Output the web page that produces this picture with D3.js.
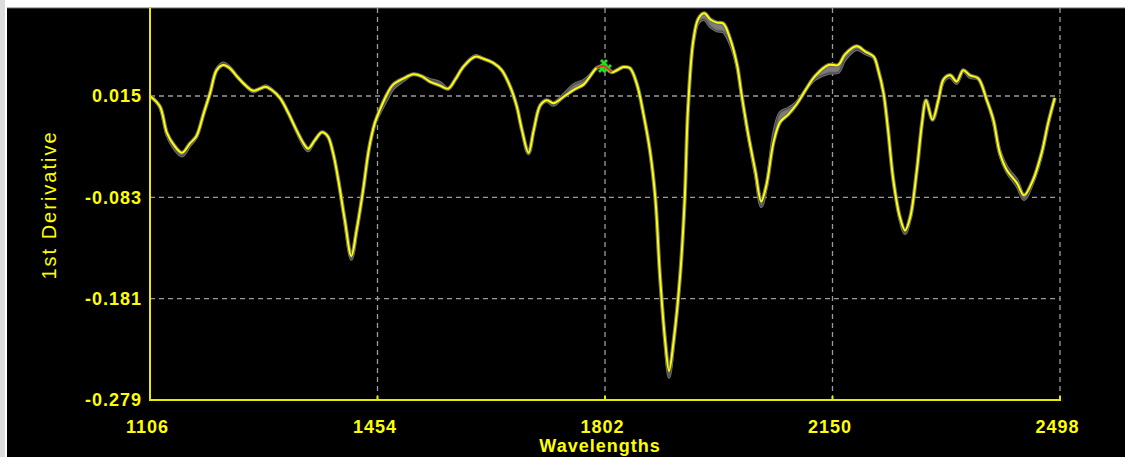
<!DOCTYPE html>
<html>
<head>
<meta charset="utf-8">
<script src="https://cdn.jsdelivr.net/npm/d3@7"></script>
<style>
  html, body { margin: 0; padding: 0; background: #ffffff; }
  svg { display: block; }
</style>
</head>
<body>
<svg id="chart" width="1125" height="457"></svg>
<script>
// Spectrum (1st derivative) sampled along the wavelength axis
const wavelengths = [1106,1121,1132,1142,1155,1167,1177,1188,1198,1208,1218,1228,1239,1251,1264,1274,1283,1292,1305,1318,1330,1341,1348,1358,1369,1378,1386,1394,1404,1414,1422,1432,1441,1450,1458,1468,1478,1494,1509,1522,1534,1550,1562,1573,1585,1603,1616,1631,1644,1657,1667,1675,1685,1693,1703,1713,1723,1738,1754,1769,1779,1789,1800,1812,1830,1840,1851,1861,1871,1879,1886,1894,1900,1907,1917,1924,1929,1937,1945,1954,1963,1973,1983,1993,2004,2011,2021,2032,2041,2049,2060,2070,2082,2095,2111,2123,2144,2159,2169,2187,2200,2213,2220,2228,2235,2243,2253,2261,2269,2279,2287,2293,2303,2312,2320,2330,2340,2350,2360,2373,2386,2396,2406,2417,2432,2443,2457,2470,2480,2490];
const meanSpectrum = [0.015,0.005,-0.021,-0.032,-0.040,-0.031,-0.024,-0.002,0.018,0.040,0.045,0.042,0.034,0.026,0.020,0.022,0.024,0.021,0.013,-0.002,-0.018,-0.031,-0.036,-0.028,-0.020,-0.024,-0.040,-0.066,-0.105,-0.140,-0.115,-0.076,-0.036,-0.011,0.002,0.016,0.026,0.032,0.036,0.034,0.029,0.025,0.022,0.031,0.043,0.053,0.051,0.047,0.040,0.024,0.005,-0.018,-0.040,-0.018,0.006,0.011,0.008,0.014,0.021,0.026,0.034,0.042,0.044,0.038,0.043,0.042,0.026,-0.003,-0.039,-0.084,-0.158,-0.222,-0.251,-0.222,-0.158,-0.084,0.003,0.068,0.090,0.095,0.089,0.086,0.085,0.071,0.045,0.016,-0.022,-0.058,-0.087,-0.071,-0.029,-0.010,-0.003,0.007,0.023,0.034,0.045,0.045,0.055,0.063,0.058,0.053,0.040,0.018,-0.018,-0.066,-0.102,-0.115,-0.102,-0.057,-0.011,0.011,-0.008,0.011,0.031,0.035,0.029,0.040,0.035,0.032,0.011,-0.008,-0.040,-0.057,-0.069,-0.081,-0.066,-0.040,-0.011,0.013];
// How far the individual sample spectra reach above / below the mean spectrum
const spreadAbove = [0,0,0,0,0,0,0,0,0,0.001,0.002,0.001,0,0,0,0,0.001,0,0,0,0,0,0,0,0,0,0,0,0,0,0,0,0,0,0,0,0,0,0,0,0.002,0.003,0,0,0,0.001,0,0,0,0,0,0,0,0,0,0,0,0.002,0.005,0.004,0.001,0,0,0,0,0,0,0,0,0,0,0,0,0,0,0,0,0,0,0,0,0,0,0,0,0,0,0,0,0,0.008,0.009,0.006,0.002,0,0,0,0,0,0,0,0,0,0,0,0,0,0,0,0,0,0,0,0,0,0,0,0,0,0,0,0,0.002,0.003,0.003,0,0,0,0,0];
const spreadBelow = [0,0.001,0.002,0.003,0.003,0.002,0.001,0,0,0,0,0,0,0,0.001,0,0,0,0,0,0.001,0.002,0.002,0,0,0,0,0,0.002,0.003,0.001,0,0,0,0.003,0.005,0.004,0.002,0,0,0,0,0,0,0,0,0,0,0,0,0,0,0.001,0,0,0.001,0.002,0,0,0,0,0,0,0,0,0,0,0,0,0,0,0.002,0.006,0.002,0,0,0,0.002,0.004,0.006,0.007,0.008,0.008,0.005,0.002,0.002,0.002,0.003,0.005,0.002,0,0,0,0,0,0.003,0.008,0.007,0.005,0.003,0.002,0.001,0,0,0,0,0.002,0.003,0.001,0,0,0,0,0,0.002,0.002,0.002,0.001,0.002,0.001,0,0.002,0.002,0.002,0.003,0.004,0.002,0.002,0.001,0];

// Axis ticks
const xTicks = [1106, 1454, 1802, 2150, 2498];
const yTicks = [-0.279, -0.181, -0.083, 0.015];
const yTickLabels = ["-0.279", "-0.181", "-0.083", "0.015"];
const cursorWavelength = 1802;

const svg = d3.select("#chart");
const W = 1125, H = 457;
const plot = { left: 150, right: 1060, top: 8, bottom: 400 };

// Frame: light border on the left, black canvas
svg.append("rect").attr("x", 0).attr("y", 0).attr("width", 5).attr("height", H).attr("fill", "#dcdcdc");
svg.append("rect").attr("x", 7).attr("y", 8).attr("width", W - 7).attr("height", H - 8).attr("fill", "#000000");
svg.append("line").attr("x1", 7).attr("x2", W).attr("y1", 8).attr("y2", 8).attr("stroke", "#6a6a6a");

const x = d3.scaleLinear().domain([1106, 2498]).range([plot.left, plot.right]);
const y = d3.scaleLinear().domain([-0.279, 0.015]).range([plot.bottom, 96]);

const yellow = "#ffff00";
const axisYellow = "#e8e800";
const fontFam = "'Liberation Sans', Arial, sans-serif";

// Dashed grid
const grid = svg.append("g").attr("stroke", "#9c9c9c").attr("stroke-width", 1.3).attr("stroke-dasharray", "5,4");
grid.selectAll("line.h").data(yTicks.slice(1)).join("line")
  .attr("x1", plot.left).attr("x2", plot.right)
  .attr("y1", d => y(d)).attr("y2", d => y(d));
grid.selectAll("line.v").data(xTicks.slice(1)).join("line")
  .attr("x1", d => x(d)).attr("x2", d => x(d))
  .attr("y1", plot.top).attr("y2", plot.bottom);

// Spectra
const pts = wavelengths.map((w, i) => ({
  w, v: meanSpectrum[i], hi: meanSpectrum[i] + spreadAbove[i], lo: meanSpectrum[i] - spreadBelow[i]
}));
const curve = d3.curveCatmullRom.alpha(0.5);
const band = d3.area().x(d => x(d.w)).y0(d => y(d.lo)).y1(d => y(d.hi)).curve(curve);
const line = d3.line().x(d => x(d.w)).y(d => y(d.v)).curve(curve);
const lineHi = d3.line().x(d => x(d.w)).y(d => y(d.hi)).curve(curve);
const lineLo = d3.line().x(d => x(d.w)).y(d => y(d.lo)).curve(curve);

const spectra = svg.append("g");
spectra.append("path").datum(pts).attr("d", band).attr("fill", "#7c7c7c").attr("stroke", "#6e6e6e").attr("stroke-width", 3);
spectra.append("path").datum(pts).attr("d", line).attr("fill", "none").attr("stroke", "#6a6a6a").attr("stroke-width", 4).attr("stroke-linejoin", "round");
spectra.append("path").datum(pts).attr("d", lineHi).attr("fill", "none").attr("stroke", "#454545").attr("stroke-width", 1);
spectra.append("path").datum(pts).attr("d", lineLo).attr("fill", "none").attr("stroke", "#454545").attr("stroke-width", 1);
spectra.append("path").datum(pts).attr("d", line).attr("fill", "none").attr("stroke", yellow).attr("stroke-width", 2).attr("stroke-linejoin", "round");

// Cursor marker on the spectrum
const cursorIdx = d3.bisector(d => d.w).center(pts, cursorWavelength);
const cursorSeg = pts.slice(cursorIdx - 1, cursorIdx + 2);
const cx = x(cursorWavelength), cy = y(pts[cursorIdx].v);
const marker = svg.append("g");
[[-1, -3], [3, 2], [-3, 3]].forEach(([dx, dy]) => {
  marker.append("path")
    .attr("d", d3.symbol(d3.symbolCross, 40)())
    .attr("transform", `translate(${cx + dx},${cy + dy}) rotate(45)`)
    .attr("fill", "#22dd22");
});
marker.append("path").datum(cursorSeg).attr("d", line).attr("fill", "none").attr("stroke", "#e03030").attr("stroke-width", 2);

// Axes
const xAxis = d3.axisBottom(x).tickValues(xTicks).tickFormat(d3.format("d")).tickSize(0).tickPadding(20);
const gx = svg.append("g").attr("transform", `translate(0,${plot.bottom})`).call(xAxis);
gx.select(".domain").remove();
gx.selectAll("text").attr("fill", yellow).attr("font-family", fontFam).attr("font-weight", "bold")
  .attr("font-size", 18).attr("letter-spacing", "1px").attr("dx", -3);

const yAxis = d3.axisLeft(y).tickValues(yTicks).tickFormat((d, i) => yTickLabels[i]).tickSize(0).tickPadding(8);
const gy = svg.append("g").attr("transform", `translate(${plot.left},0)`).call(yAxis);
gy.select(".domain").remove();
gy.selectAll("text").attr("fill", yellow).attr("font-family", fontFam).attr("font-weight", "bold")
  .attr("font-size", 18).attr("letter-spacing", "1px");

// Axis lines and small tick marks
const axes = svg.append("g").attr("stroke", axisYellow).attr("stroke-width", 2);
axes.append("line").attr("x1", plot.left).attr("x2", plot.left).attr("y1", plot.top).attr("y2", plot.bottom + 1);
axes.append("line").attr("x1", plot.left).attr("x2", plot.right + 1).attr("y1", plot.bottom).attr("y2", plot.bottom);
axes.selectAll("line.t").data(xTicks.slice(1)).join("line")
  .attr("x1", d => x(d)).attr("x2", d => x(d)).attr("y1", plot.bottom).attr("y2", plot.bottom - 4);

// Titles
svg.append("text").attr("x", 600).attr("y", 452).attr("text-anchor", "middle")
  .attr("fill", yellow).attr("font-family", fontFam).attr("font-weight", "bold")
  .attr("font-size", 18).attr("letter-spacing", "1px").text("Wavelengths");
svg.append("text").attr("transform", "translate(56,205) rotate(-90)").attr("text-anchor", "middle")
  .attr("fill", yellow).attr("font-family", fontFam)
  .attr("font-size", 20).attr("letter-spacing", "2px").text("1st Derivative");
</script>
</body>
</html>
